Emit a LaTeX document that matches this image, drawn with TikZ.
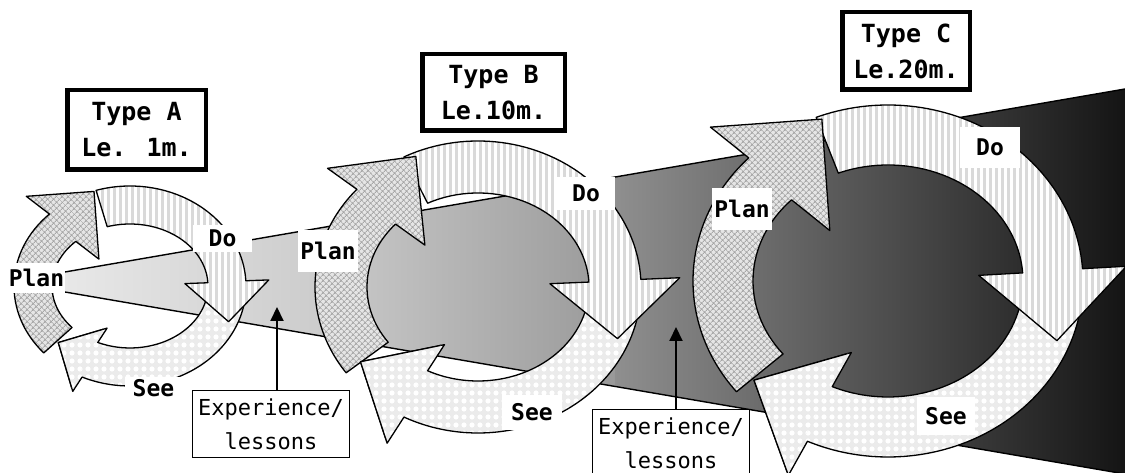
\documentclass[tikz,border=0pt]{standalone}
\usepackage{fontspec}
\usetikzlibrary{patterns.meta,arrows.meta}
\newfontfamily\diagmono{DejaVu Sans Mono}

% greys of the experience wedge, light on the left, almost black on the right
\definecolor{wedgeAa}{gray}{0.91}
\definecolor{wedgeAb}{gray}{0.79}
\definecolor{wedgeBa}{gray}{0.78}
\definecolor{wedgeBb}{gray}{0.60}
\definecolor{wedgeCa}{gray}{0.56}
\definecolor{wedgeCb}{gray}{0.08}

\tikzset{
  ringline/.style={draw=black, line width=1.3pt, line join=round},
  planfill/.style={ringline, preaction={fill=gray!20},
    pattern={Hatch[distance=4pt,angle=45,line width=0.9pt]}, pattern color=gray!70},
  dofill/.style={ringline, preaction={fill=white},
    pattern={Lines[distance=6pt,angle=90,line width=3pt]}, pattern color=gray!30},
  seefill/.style={ringline, preaction={fill=gray!16},
    pattern={Dots[distance=8pt,radius=2.6pt]}, pattern color=white},
  steplabel/.style={fill=white, inner sep=0pt,
    font=\diagmono\bfseries\fontsize{23}{23}\selectfont},
  typebox/.style={draw=black, line width=4.5pt, fill=white, align=center, inner sep=0pt,
    font=\diagmono\bfseries\fontsize{25}{36}\selectfont},
  lessonbox/.style={draw=black, line width=1.3pt, fill=white, align=center, inner sep=0pt,
    minimum width=156.7pt, minimum height=66.7pt,
    font=\diagmono\fontsize{22}{34}\selectfont},
  pointer/.style={line width=2pt, -{Triangle[width=13pt,length=14pt]}},
  wedgeline/.style={draw=black, line width=1.4pt},
}

% One curved arrow of a cycle ring.
% Ring: centre (\ringCX,\ringCY), mid radii \ringRX/\ringRY, half width \ringHW.
% #1 tail angle, #2 head-base angle (clockwise from #1), #3 head half width,
% #4 head length, #5 style, #6 name prefix of the head coordinates.
\newcommand\ringpart[6]{%
  \pgfmathsetmacro\rpOX{\ringRX+\ringHW}%
  \pgfmathsetmacro\rpOY{\ringRY+\ringHW}%
  \pgfmathsetmacro\rpIX{\ringRX-\ringHW}%
  \pgfmathsetmacro\rpIY{\ringRY-\ringHW}%
  \pgfmathsetmacro\rpLen{100*sqrt((\ringRX*cos(#2)/100)^2+(\ringRY*sin(#2)/100)^2)}%
  \pgfmathsetmacro\rpNX{\ringRX*cos(#2)/\rpLen}%
  \pgfmathsetmacro\rpNY{\ringRY*sin(#2)/\rpLen}%
  \pgfmathsetmacro\rpMX{\ringCX+\ringRX*cos(#2)}%
  \pgfmathsetmacro\rpMY{\ringCY+\ringRY*sin(#2)}%
  \coordinate (#6-bo)  at ({\rpMX+#3*(\rpNX)},{\rpMY+#3*(\rpNY)});
  \coordinate (#6-tip) at ({\rpMX+#4*(\rpNY)},{\rpMY-#4*(\rpNX)});
  \coordinate (#6-bi)  at ({\rpMX-#3*(\rpNX)},{\rpMY-#3*(\rpNY)});
  \coordinate (#6-c1) at ({\rpMX+(#3+6)*(\rpNX)+3*(\rpNY)},{\rpMY+(#3+6)*(\rpNY)-3*(\rpNX)});
  \coordinate (#6-c2) at ({\rpMX+(#3+6)*(\rpNX)+(#4+20)*(\rpNY)},{\rpMY+(#3+6)*(\rpNY)-(#4+20)*(\rpNX)});
  \coordinate (#6-c3) at ({\rpMX-(#3+6)*(\rpNX)+(#4+20)*(\rpNY)},{\rpMY-(#3+6)*(\rpNY)-(#4+20)*(\rpNX)});
  \coordinate (#6-c4) at ({\rpMX-(#3+6)*(\rpNX)+3*(\rpNY)},{\rpMY-(#3+6)*(\rpNY)-3*(\rpNX)});
  \path[#5] ({\ringCX+\rpOX*cos(#1)},{\ringCY+\rpOY*sin(#1)})
    arc[start angle=#1,end angle=#2,x radius=\rpOX,y radius=\rpOY]
    -- (#6-bo) -- (#6-tip) -- (#6-bi)
    -- ({\ringCX+\rpIX*cos(#2)},{\ringCY+\rpIY*sin(#2)})
    arc[start angle=#2,end angle=#1,x radius=\rpIX,y radius=\rpIY] -- cycle;
}

% Sets the ring used by \ringpart: centre x, centre y, radius x, radius y, half width
\newcommand\cyclering[5]{%
  \def\ringCX{#1}\def\ringCY{#2}\def\ringRX{#3}\def\ringRY{#4}\def\ringHW{#5}%
}

\begin{document}
\begin{tikzpicture}[x=1pt,y=1pt]
\useasboundingbox (0,0) rectangle (1125,473);
\fill[white] (0,0) rectangle (1125,473);

% experience wedge in three shaded pieces
\fill[left color=wedgeAa, right color=wedgeAb]
  (62,200.5) -- (346,249.5) -- (346,132.7) -- (62,181.5) -- cycle;
\fill[left color=wedgeBa, right color=wedgeBb]
  (345,249.35) -- (616,296.1) -- (616,86.4) -- (345,132.9) -- cycle;
\fill[left color=wedgeCa, right color=wedgeCb]
  (615,295.96) -- (1125,384) -- (1125,-1) -- (615,86.56) -- cycle;
\coordinate (wTopL) at (62,200.5);
\coordinate (wTopR) at (1125,384);
\coordinate (wBotL) at (62,181.5);
\coordinate (wBotR) at (1125,-1);
\draw[wedgeline] (wTopL) -- (wTopR);
\draw[wedgeline] (wBotL) -- (wBotR);

% ---- cycle A
\cyclering{130}{187}{97}{81}{19}
\ringpart{-10}{-114.4}{36}{36}{seefill}{aSee}
\ringpart{107}{3}{42}{40}{dofill}{aDo}
\ringpart{222}{134}{48}{48}{planfill}{aPlan}
\begin{scope}
  \clip (aSee-c1) -- (aSee-c2) -- (aSee-c3) -- (aSee-c4) -- cycle;
  \ringpart{-10}{-114.4}{36}{36}{seefill}{aSeeTop}
\end{scope}

% ---- cycle B
\cyclering{478}{186}{137}{120}{26}
\ringpart{-10}{-117}{57}{64}{seefill}{bSee}
\ringpart{117}{3}{65}{58}{dofill}{bDo}
\ringpart{216}{138}{62}{64}{planfill}{bPlan}
\begin{scope}
  \clip (bSee-c1) -- (bSee-c2) -- (bSee-c3) -- (bSee-c4) -- cycle;
  \ringpart{-10}{-117}{57}{64}{seefill}{bSeeTop}
\end{scope}

% ---- cycle C
\cyclering{888}{192}{165}{146}{30}
\ringpart{-10}{-114.4}{69}{74}{seefill}{cSee}
\ringpart{111.6}{4}{74}{70}{dofill}{cDo}
\ringpart{219}{135.6}{79}{79}{planfill}{cPlan}
\begin{scope}
  \clip (cSee-c1) -- (cSee-c2) -- (cSee-c3) -- (cSee-c4) -- cycle;
  \ringpart{-10}{-114.4}{69}{74}{seefill}{cSeeTop}
\end{scope}

% step labels
\node[steplabel, minimum width=57pt, minimum height=30pt] (aPlanLbl) at (36.5,195) {Plan};
\node[steplabel, minimum width=59pt, minimum height=27pt] (aDoLbl) at (222.5,234.5) {Do};
\node[steplabel, minimum width=57pt, minimum height=23pt] (aSeeLbl) at (153.5,84.5) {See};
\node[steplabel, minimum width=60pt, minimum height=42pt] (bPlanLbl) at (328,222) {Plan};
\node[steplabel, minimum width=58pt, minimum height=33pt] (bDoLbl) at (586,279.5) {Do};
\node[steplabel, minimum width=60pt, minimum height=35pt] (bSeeLbl) at (532,60.5) {See};
\node[steplabel, minimum width=60pt, minimum height=42pt] (cPlanLbl) at (742,264) {Plan};
\node[steplabel, minimum width=60pt, minimum height=41pt] (cDoLbl) at (990,325.5) {Do};
\node[steplabel, minimum width=58pt, minimum height=38pt] (cSeeLbl) at (946,57) {See};

% type boxes
\node[typebox, minimum width=138.5pt, minimum height=79.5pt] (typeA) at (136.5,343) {Type A\\Le. 1m.};
\node[typebox, minimum width=142.5pt, minimum height=76.5pt] (typeB) at (493.5,380.5) {Type B\\Le.10m.};
\node[typebox, minimum width=127.5pt, minimum height=77.5pt] (typeC) at (906,422) {Type C\\Le.20m.};

% experience / lessons boxes with their pointers
\node[lessonbox] (lessonA) at (271,49) {Experience/\\lessons};
\node[lessonbox] (lessonB) at (671,30) {Experience/\\lessons};
\coordinate (ptA) at (277,166);
\coordinate (ptB) at (676,146);
\draw[pointer] (lessonA.north -| ptA) -- (ptA);
\draw[pointer] (lessonB.north -| ptB) -- (ptB);
\end{tikzpicture}
\end{document}
